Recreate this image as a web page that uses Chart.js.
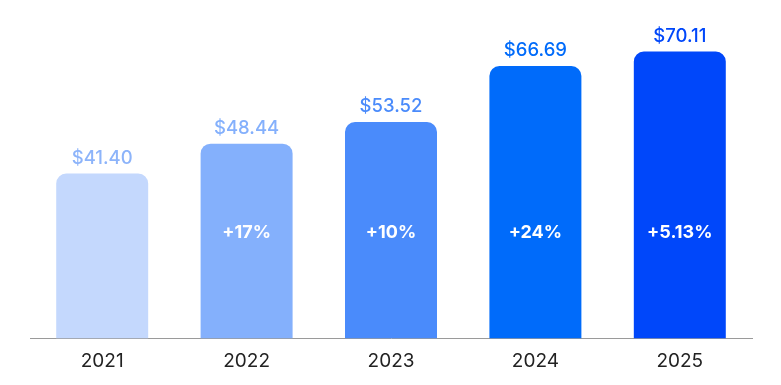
<!DOCTYPE html>
<html>
<head>
<meta charset="utf-8">
<script src="https://cdn.jsdelivr.net/npm/chart.js@4"></script>
<style>
  html, body { margin: 0; padding: 0; background: #fff; }
  #wrap { width: 781px; height: 385px; }
</style>
</head>
<body>
<div id="wrap"><canvas id="priceChart"></canvas></div>
<script>
const years = ["2021", "2022", "2023", "2024", "2025"];
const prices = [41.40, 48.44, 53.52, 66.69, 70.11];
const growthLabels = ["", "+17%", "+10%", "+24%", "+5.13%"];
const barColors = ["#c4d8fd", "#84b0fc", "#4a8bfb", "#006bfa", "#0047fa"];
const topLabelColors = ["#8db4fa", "#84b0fc", "#4a8bfb", "#006bfa", "#0047fa"];

const FONT = "Inter, 'Noto Sans', sans-serif";

// value labels above bars + growth labels inside
const labelPlugin = {
    id: "barLabels",
    afterDatasetsDraw(chart) {
        const ctx = chart.ctx;
        const meta = chart.getDatasetMeta(0);
        const area = chart.chartArea;
        ctx.save();
        ctx.textAlign = "center";
        ctx.textBaseline = "alphabetic";
        meta.data.forEach((bar, i) => {
            ctx.fillStyle = topLabelColors[i];
            ctx.font = "500 18.5px " + FONT;
            ctx.fillText("$" + prices[i].toFixed(2), bar.x, bar.y - 10);
            if (growthLabels[i]) {
                ctx.fillStyle = "#ffffff";
                ctx.font = "700 18px " + FONT;
                ctx.fillText(growthLabels[i], bar.x, area.bottom - 100);
            }
        });
        ctx.restore();
    }
};

new Chart(document.getElementById("priceChart").getContext("2d"), {
    type: "bar",
    data: {
        labels: years,
        datasets: [{
            data: prices,
            backgroundColor: barColors,
            borderRadius: { topLeft: 10, topRight: 10 },
            borderSkipped: "bottom",
            barPercentage: 0.637,
            categoryPercentage: 1
        }]
    },
    options: {
        responsive: true,
        maintainAspectRatio: false,
        animation: false,
        layout: { padding: { top: 7, left: 30, right: 29, bottom: 0 } },
        plugins: { legend: { display: false }, tooltip: { enabled: false } },
        scales: {
            x: {
                grid: { display: false, drawTicks: false },
                border: { color: "#9a9a9a", width: 1 },
                ticks: { color: "#222222", font: { family: FONT, size: 19 }, padding: 12 }
            },
            y: {
                display: false,
                min: 2.69,
                max: 80.58
            }
        }
    },
    plugins: [labelPlugin]
});
</script>
</body>
</html>
